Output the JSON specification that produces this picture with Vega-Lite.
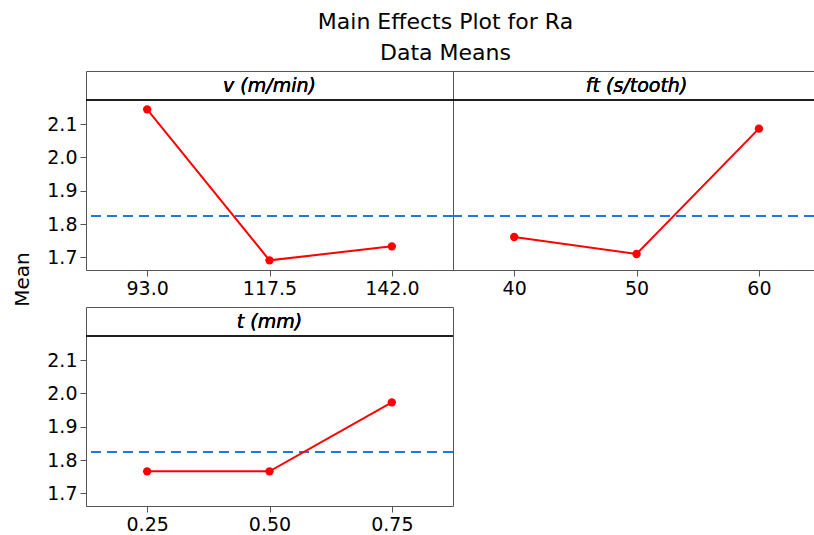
{
  "$schema": "https://vega.github.io/schema/vega-lite/v6.json",
  "padding": {"left": 11, "top": 10, "right": 0, "bottom": 0},
  "background": "white",
  "title": {
    "text": ["Main Effects Plot for Ra", "Data Means"],
    "font": "DejaVu Sans",
    "fontSize": 22,
    "fontWeight": "normal",
    "color": "#000",
    "lineHeight": 31,
    "anchor": "middle",
    "offset": 6,
    "dx": 32
  },
  "config": {
    "view": {"stroke": "#555", "strokeWidth": 1},
    "axis": {
      "labelFont": "DejaVu Sans",
      "labelFontSize": 19,
      "labelColor": "#000",
      "tickColor": "#555",
      "tickSize": 6,
      "domain": false,
      "grid": false,
      "labelPadding": 3,
      "titleFont": "DejaVu Sans",
      "titleFontSize": 20,
      "titleFontWeight": "normal",
      "titleColor": "#000"
    }
  },
  "columns": 2,
  "bounds": "flush",
  "spacing": {"row": 37, "column": 0},
  "concat": [
    {
      "width": 367,
      "height": 199,
      "data": {"values": [
        {"level": "93.0", "mean": 2.144},
        {"level": "117.5", "mean": 1.691},
        {"level": "142.0", "mean": 1.733}
      ]},
      "layer": [
        {"mark": {"type": "rule", "color": "#000", "strokeWidth": 1}, "encoding": {"y": {"datum": 2.172, "type": "quantitative", "title": "Mean"}}},
        {"mark": {"type": "text", "text": "v (m/min)", "font": "DejaVu Sans", "fontStyle": "italic", "fontSize": 19, "baseline": "middle", "color": "#000"}, "encoding": {"y": {"datum": 2.214, "type": "quantitative", "title": "Mean"}}},
        {"mark": {"type": "rule", "color": "#1f78e0", "strokeWidth": 2, "strokeDash": [10, 6]}, "encoding": {"y": {"datum": 1.824, "type": "quantitative", "title": "Mean"}}},
        {
          "mark": {"type": "line", "color": "#ff0000", "strokeWidth": 2, "point": {"filled": true, "size": 70, "color": "#ff0000", "opacity": 1}},
          "encoding": {
            "x": {"field": "level", "type": "ordinal", "sort": null, "scale": {"type": "point", "padding": 0.5}, "axis": {"title": null, "labelAngle": 0}},
            "y": {"field": "mean", "type": "quantitative", "title": "Mean", "scale": {"domain": [1.662, 2.259], "nice": false, "zero": false}, "axis": {"values": [1.7, 1.8, 1.9, 2.0, 2.1], "format": ".1f", "titleX": -64, "titleY": 208, "titleBaseline": "middle"}}
          }
        }
      ]
    },
    {
      "width": 361,
      "height": 199,
      "data": {"values": [
        {"level": 40, "mean": 1.761},
        {"level": 50, "mean": 1.71},
        {"level": 60, "mean": 2.086}
      ]},
      "layer": [
        {"mark": {"type": "rule", "color": "#000", "strokeWidth": 1}, "encoding": {"y": {"datum": 2.172, "type": "quantitative", "axis": null}}},
        {"mark": {"type": "text", "text": "ft (s/tooth)", "font": "DejaVu Sans", "fontStyle": "italic", "fontSize": 19, "baseline": "middle", "color": "#000"}, "encoding": {"x": {"datum": 50, "type": "quantitative", "title": null}, "y": {"datum": 2.214, "type": "quantitative", "axis": null}}},
        {"mark": {"type": "rule", "color": "#1f78e0", "strokeWidth": 2, "strokeDash": [10, 6]}, "encoding": {"y": {"datum": 1.824, "type": "quantitative", "axis": null}}},
        {
          "mark": {"type": "line", "color": "#ff0000", "strokeWidth": 2, "point": {"filled": true, "size": 70, "color": "#ff0000", "opacity": 1}},
          "encoding": {
            "x": {"field": "level", "type": "quantitative", "title": null, "scale": {"domain": [35, 64.5], "nice": false, "zero": false}, "axis": {"values": [40, 50, 60], "labelAngle": 0}},
            "y": {"field": "mean", "type": "quantitative", "scale": {"domain": [1.662, 2.259], "nice": false, "zero": false}, "axis": null}
          }
        }
      ]
    },
    {
      "width": 367,
      "height": 199,
      "data": {"values": [
        {"level": "0.25", "mean": 1.766},
        {"level": "0.50", "mean": 1.766},
        {"level": "0.75", "mean": 1.973}
      ]},
      "layer": [
        {"mark": {"type": "rule", "color": "#000", "strokeWidth": 1}, "encoding": {"y": {"datum": 2.172, "type": "quantitative", "title": null}}},
        {"mark": {"type": "text", "text": "t (mm)", "font": "DejaVu Sans", "fontStyle": "italic", "fontSize": 19, "baseline": "middle", "color": "#000"}, "encoding": {"y": {"datum": 2.214, "type": "quantitative", "title": null}}},
        {"mark": {"type": "rule", "color": "#1f78e0", "strokeWidth": 2, "strokeDash": [10, 6]}, "encoding": {"y": {"datum": 1.824, "type": "quantitative", "title": null}}},
        {
          "mark": {"type": "line", "color": "#ff0000", "strokeWidth": 2, "point": {"filled": true, "size": 70, "color": "#ff0000", "opacity": 1}},
          "encoding": {
            "x": {"field": "level", "type": "ordinal", "sort": null, "scale": {"type": "point", "padding": 0.5}, "axis": {"title": null, "labelAngle": 0}},
            "y": {"field": "mean", "type": "quantitative", "title": null, "scale": {"domain": [1.662, 2.259], "nice": false, "zero": false}, "axis": {"values": [1.7, 1.8, 1.9, 2.0, 2.1], "format": ".1f"}}
          }
        }
      ]
    }
  ]
}
